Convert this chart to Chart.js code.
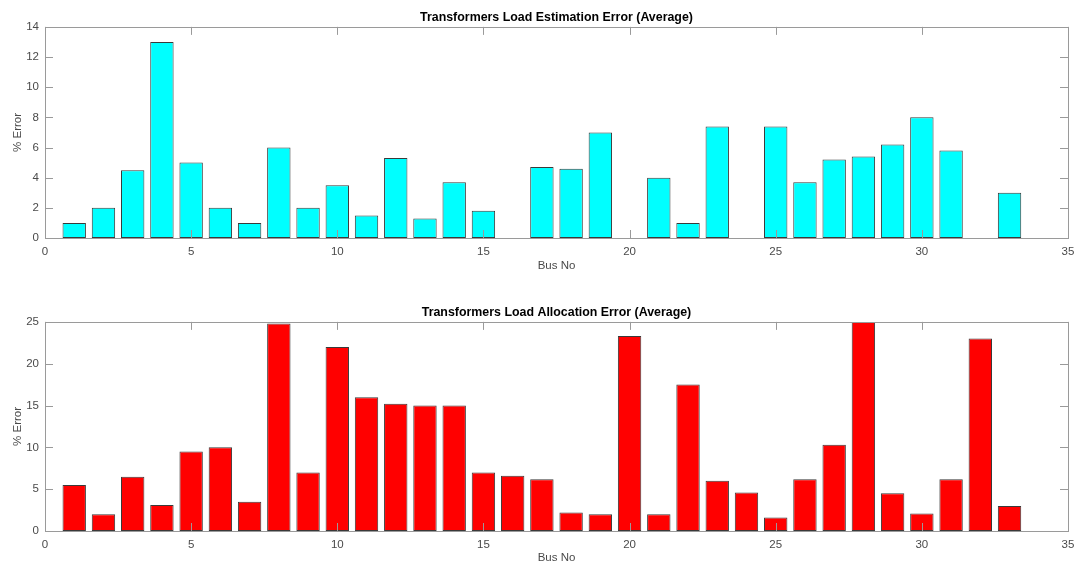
<!DOCTYPE html>
<html>
<head>
<meta charset="utf-8">
<script src="https://cdn.jsdelivr.net/npm/chart.js@4.4.1/dist/chart.umd.min.js"></script>
<style>
    body { margin: 0; background: #fff; }
    .panel { position: absolute; left: 0; width: 1077px; }
</style>
</head>
<body>
<div class="panel" style="top:0;height:282px"><canvas id="estimationChart"></canvas></div>
<div class="panel" style="top:282px;height:283px"><canvas id="allocationChart"></canvas></div>
<script>
let busNo = [1, 2, 3, 4, 5, 6, 7, 8, 9, 10, 11, 12, 13, 14, 15, 16, 17,
    18, 19, 20, 21, 22, 23, 24, 25, 26, 27, 28, 29, 30, 31, 32, 33];

// % error per bus (average)
let estimationError = [1, 2, 4.5, 13, 5, 2, 1, 6, 2, 3.5, 1.5, 5.3, 1.3, 3.7, 1.8, 0, 4.7,
    4.6, 7, 0, 4, 1, 7.4, 0, 7.4, 3.7, 5.2, 5.4, 6.2, 8, 5.8, 0, 3];
let allocationError = [5.5, 2, 6.5, 3.1, 9.5, 10, 3.5, 24.8, 7, 22, 16, 15.2, 15, 15, 7, 6.6, 6.2,
    2.2, 2, 23.3, 2, 17.5, 6, 4.6, 1.6, 6.2, 10.3, 26, 4.5, 2.1, 6.2, 23, 3];

let xTicks = [0, 5, 10, 15, 20, 25, 30, 35];
let estimationTicks = [0, 2, 4, 6, 8, 10, 12, 14];
let allocationTicks = [0, 5, 10, 15, 20, 25];

let tickColor = "#4a4a4a";
let axisColor = "#9a9a9a";

// matlab style box with inward ticks on all four sides
let matlabBox = {
    id: "matlabBox",
    afterDatasetsDraw(chart) {
        let ctx = chart.ctx;
        let a = chart.chartArea;
        let x = chart.scales.x;
        let y = chart.scales.y;
        let len = 8;
        ctx.save();
        ctx.strokeStyle = axisColor;
        ctx.lineWidth = 1;
        ctx.strokeRect(Math.round(a.left) + 0.5, Math.round(a.top) + 0.5,
            Math.round(a.right - a.left), Math.round(a.bottom - a.top));
        ctx.beginPath();
        x.ticks.forEach((t) => {
            let px = Math.round(x.getPixelForValue(t.value)) + 0.5;
            ctx.moveTo(px, a.bottom);
            ctx.lineTo(px, a.bottom - len);
            ctx.moveTo(px, a.top);
            ctx.lineTo(px, a.top + len);
        });
        y.ticks.forEach((t) => {
            let py = Math.round(y.getPixelForValue(t.value)) + 0.5;
            ctx.moveTo(a.left, py);
            ctx.lineTo(a.left + len, py);
            ctx.moveTo(a.right, py);
            ctx.lineTo(a.right - len, py);
        });
        ctx.stroke();
        ctx.restore();
    },
};

function makeChart(id, title, values, color, yTicks, yMax, opts) {
    let ctx = document.querySelector(id).getContext("2d");
    return new Chart(ctx, {
        type: "bar",
        data: {
            datasets: [
                {
                    data: busNo.map((b, i) => ({ x: b, y: values[i] })),
                    backgroundColor: color,
                    borderColor: "#3a3a3a",
                    borderWidth: 1,
                    borderSkipped: false,
                    barPercentage: 0.8,
                    categoryPercentage: 1,
                },
            ],
        },
        options: {
            responsive: true,
            maintainAspectRatio: false,
            animation: false,
            layout: {
                padding: { top: opts.padTop, right: 9, bottom: 0, left: 0 },
            },
            plugins: {
                legend: { display: false },
                tooltip: { enabled: false },
                title: {
                    display: true,
                    fullSize: false,
                    text: title,
                    color: "#000",
                    font: { family: "Liberation Sans, Arial", size: 12.4, weight: "bold" },
                    padding: { top: opts.titleTop, bottom: 2 },
                },
            },
            scales: {
                x: {
                    type: "linear",
                    offset: false,
                    min: 0,
                    max: 35,
                    afterBuildTicks: (s) => {
                        s.ticks = xTicks.map((v) => ({ value: v }));
                    },
                    afterFit: (s) => {
                        s.height = opts.xHeight;
                        s.paddingLeft = 0;
                        s.paddingRight = 0;
                    },
                    grid: { display: false, drawTicks: false, offset: false },
                    border: { display: false },
                    ticks: {
                        color: tickColor,
                        padding: 7,
                        maxRotation: 0,
                        font: { family: "Liberation Sans, Arial", size: 11.5 },
                    },
                    title: {
                        display: true,
                        text: "Bus No",
                        color: tickColor,
                        font: { family: "Liberation Sans, Arial", size: 11.5 },
                        padding: { top: 0, bottom: opts.xTitleBottom },
                    },
                },
                y: {
                    min: 0,
                    max: yMax,
                    afterBuildTicks: (s) => {
                        s.ticks = yTicks.map((v) => ({ value: v }));
                    },
                    afterFit: (s) => {
                        s.width = 45;
                    },
                    grid: { display: false, drawTicks: false },
                    border: { display: false },
                    ticks: {
                        color: tickColor,
                        padding: 6,
                        font: { family: "Liberation Sans, Arial", size: 11.5 },
                    },
                    title: {
                        display: true,
                        text: "% Error",
                        color: tickColor,
                        font: { family: "Liberation Sans, Arial", size: 11.5 },
                        padding: { top: 11, bottom: 0 },
                    },
                },
            },
        },
        plugins: [matlabBox],
    });
}

makeChart("#estimationChart", "Transformers Load Estimation Error (Average)",
    estimationError, "#00ffff", estimationTicks, 14,
    { padTop: 0, titleTop: 10, xHeight: 44, xTitleBottom: 9 });

makeChart("#allocationChart", "Transformers Load Allocation Error (Average)",
    allocationError, "#ff0000", allocationTicks, 25,
    { padTop: 13, titleTop: 10, xHeight: 34, xTitleBottom: 0 });
</script>
</body>
</html>
